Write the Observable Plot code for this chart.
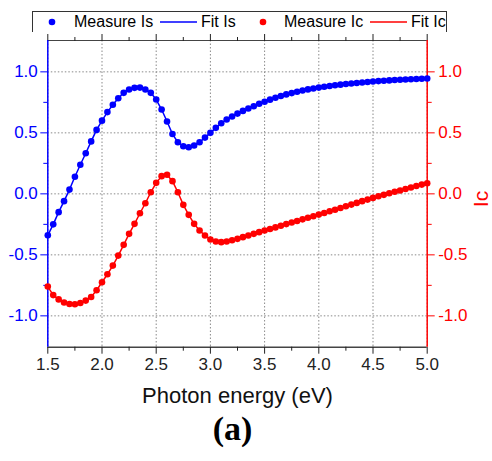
<!DOCTYPE html>
<html>
<head>
<meta charset="utf-8">
<script src="https://cdn.jsdelivr.net/npm/d3@7"></script>
<script src="https://cdn.jsdelivr.net/npm/@observablehq/plot@0.6"></script>
<style>
  body { margin: 0; background: #fff; font-family: "Liberation Sans", Arial, sans-serif; }
  #wrap { position: relative; width: 492px; height: 461px; overflow: hidden; }
  #legend { position: absolute; left: 32px; top: 11px; width: 415px; height: 22px; box-sizing: border-box; border: 1px solid #333; }
  .lg { position: absolute; font-size: 16px; line-height: 16px; color: #000; white-space: nowrap; }
  .sym { position: absolute; }
  #chart { position: absolute; left: 0; top: 32px; }
  #cap { position: absolute; left: 0; top: 412px; width: 465px; text-align: center; font-family: "Liberation Serif", "Times New Roman", serif; font-weight: bold; font-size: 34px; line-height: 34px; color: #000; }
</style>
</head>
<body>
<div id="wrap">
  <div id="legend"></div>
  <div id="chart"></div>
  <div id="cap">(a)</div>
</div>
<script>
// ---- data ----
const energy = [1.50,1.55,1.60,1.65,1.70,1.75,1.80,1.85,1.90,1.95,
  2.00,2.05,2.10,2.15,2.20,2.25,2.30,2.35,2.40,2.45,
  2.50,2.55,2.60,2.65,2.70,2.75,2.80,2.85,2.90,2.95,
  3.00,3.05,3.10,3.15,3.20,3.25,3.30,3.35,3.40,3.45,
  3.50,3.55,3.60,3.65,3.70,3.75,3.80,3.85,3.90,3.95,
  4.00,4.05,4.10,4.15,4.20,4.25,4.30,4.35,4.40,4.45,
  4.50,4.55,4.60,4.65,4.70,4.75,4.80,4.85,4.90,4.95,5.00];
const measureIs = [-0.34,-0.25,-0.15,-0.06,0.035,0.14,0.238,0.333,0.43,0.524,
  0.60,0.67,0.73,0.784,0.828,0.855,0.869,0.871,0.855,0.828,
  0.773,0.691,0.593,0.49,0.423,0.39,0.382,0.396,0.423,0.461,
  0.50,0.541,0.579,0.609,0.634,0.658,0.68,0.70,0.718,0.738,
  0.755,0.772,0.788,0.802,0.815,0.826,0.837,0.847,0.856,0.864,
  0.871,0.878,0.884,0.89,0.895,0.90,0.905,0.909,0.913,0.917,
  0.921,0.924,0.927,0.93,0.933,0.935,0.937,0.939,0.941,0.943,0.945];
const measureIc = [-0.76,-0.83,-0.865,-0.89,-0.903,-0.905,-0.895,-0.875,-0.845,-0.79,
  -0.725,-0.659,-0.588,-0.506,-0.418,-0.328,-0.246,-0.159,-0.077,0.013,
  0.09,0.145,0.156,0.104,0.013,-0.09,-0.172,-0.246,-0.30,-0.342,
  -0.374,-0.391,-0.396,-0.391,-0.38,-0.369,-0.355,-0.342,-0.328,-0.314,
  -0.30,-0.288,-0.275,-0.262,-0.248,-0.235,-0.222,-0.209,-0.196,-0.183,
  -0.17,-0.157,-0.143,-0.13,-0.116,-0.102,-0.088,-0.074,-0.06,-0.047,
  -0.033,-0.02,-0.008,0.005,0.017,0.028,0.04,0.052,0.064,0.076,0.087];
const fitIs = measureIs;
const fitIc = measureIc;

const xDomain = [1.5, 5.0];
const yDomain = [-1.257, 1.257];
const xMajor = [1.5, 2.0, 2.5, 3.0, 3.5, 4.0, 4.5, 5.0];
const xMinor = [1.75, 2.25, 2.75, 3.25, 3.75, 4.25, 4.75];
const yMajor = [-1.0, -0.5, 0.0, 0.5, 1.0];
const yMinor = [-0.75, -0.25, 0.25, 0.75];
const legendLabels = ["Measure Is", "Fit Is", "Measure Ic", "Fit Ic"];
const xLabel = "Photon energy (eV)";
const yRightLabel = "Ic";

// ---- legend ----
const BLUE = "#0000ff", RED = "#ff0000";
const legend = document.getElementById("legend");
const legendItems = [
  {label: legendLabels[0], kind: "dot", color: BLUE, sx: 19, tx: 41},
  {label: legendLabels[1], kind: "line", color: BLUE, sx: 127, tx: 168},
  {label: legendLabels[2], kind: "dot", color: RED, sx: 230, tx: 251},
  {label: legendLabels[3], kind: "line", color: RED, sx: 337, tx: 378}
];
for (const it of legendItems) {
  const s = document.createElementNS("http://www.w3.org/2000/svg", "svg");
  s.setAttribute("class", "sym");
  if (it.kind === "dot") {
    s.setAttribute("width", 8); s.setAttribute("height", 8);
    s.style.left = (it.sx - 4) + "px"; s.style.top = "6px";
    s.innerHTML = `<circle cx="4" cy="4" r="3.3" fill="${it.color}"/>`;
  } else {
    s.setAttribute("width", 38); s.setAttribute("height", 4);
    s.style.left = it.sx + "px"; s.style.top = "8px";
    s.innerHTML = `<line x1="0" x2="37" y1="2" y2="2" stroke="${it.color}" stroke-width="1.5"/>`;
  }
  legend.appendChild(s);
  const t = document.createElement("div");
  t.className = "lg";
  t.textContent = it.label;
  t.style.left = it.tx + "px";
  t.style.top = "2px";
  legend.appendChild(t);
}

// ---- chart ----
const rows = energy.map((e, i) => ({e, is: measureIs[i], ic: measureIc[i], fis: fitIs[i], fic: fitIc[i]}));
const fmt = d => d.toFixed(1);
const blank = () => "";

const chart = Plot.plot({
  width: 492,
  height: 380,
  marginTop: 8,
  marginBottom: 65.3,
  marginLeft: 47.3,
  marginRight: 65.3,
  style: {fontFamily: "'Liberation Sans', Arial, sans-serif", background: "#fff"},
  x: {domain: xDomain, label: null},
  y: {domain: yDomain, label: null},
  marks: [
    Plot.gridX(xMajor, {stroke: "#8a8a8a", strokeOpacity: 1, strokeDasharray: "1.5,2", strokeWidth: 1}),
    Plot.gridY(yMajor, {stroke: "#8a8a8a", strokeOpacity: 1, strokeDasharray: "1.5,2", strokeWidth: 1}),
    Plot.ruleY([yDomain[0]], {stroke: "#444", strokeWidth: 1.5}),
    Plot.ruleY([yDomain[1]], {stroke: "#444", strokeWidth: 1.2}),
    Plot.axisX(xMajor, {anchor: "bottom", tickSize: 7, tickPadding: 4, tickFormat: fmt, fontSize: 17, label: null, color: "#222"}),
    Plot.axisX(xMinor, {anchor: "bottom", tickSize: 4, tickFormat: blank, label: null, color: "#222"}),
    Plot.axisX(xMajor, {anchor: "top", tickSize: 7, tickFormat: blank, label: null, color: "#222"}),
    Plot.axisX(xMinor, {anchor: "top", tickSize: 4, tickFormat: blank, label: null, color: "#222"}),
    Plot.axisY(yMajor, {anchor: "left", tickSize: 7, tickPadding: 3, tickFormat: fmt, fontSize: 17, label: null, color: BLUE}),
    Plot.axisY(yMinor, {anchor: "left", tickSize: 4, tickFormat: blank, label: null, color: BLUE}),
    Plot.axisY(yMajor, {anchor: "right", tickSize: 7, tickPadding: 4, tickFormat: fmt, fontSize: 17, label: null, color: RED}),
    Plot.axisY(yMinor, {anchor: "right", tickSize: 4, tickFormat: blank, label: null, color: RED}),
    Plot.ruleX([xDomain[0]], {stroke: BLUE, strokeWidth: 1.5}),
    Plot.ruleX([xDomain[1]], {stroke: RED, strokeWidth: 1.5}),
    Plot.line(rows, {x: "e", y: "fis", stroke: BLUE, strokeWidth: 1.5}),
    Plot.dot(rows, {x: "e", y: "is", r: 3.3, fill: BLUE}),
    Plot.line(rows, {x: "e", y: "fic", stroke: RED, strokeWidth: 1.5}),
    Plot.dot(rows, {x: "e", y: "ic", r: 3.3, fill: RED}),
    Plot.text([xLabel], {text: d => d, frameAnchor: "bottom", dy: 56, fontSize: 22, fill: "#111"}),
    Plot.text([yRightLabel], {text: d => d, frameAnchor: "right", dx: 54, dy: -3, rotate: -90, fontSize: 21, fill: RED})
  ]
});
document.getElementById("chart").appendChild(chart);
</script>
</body>
</html>
